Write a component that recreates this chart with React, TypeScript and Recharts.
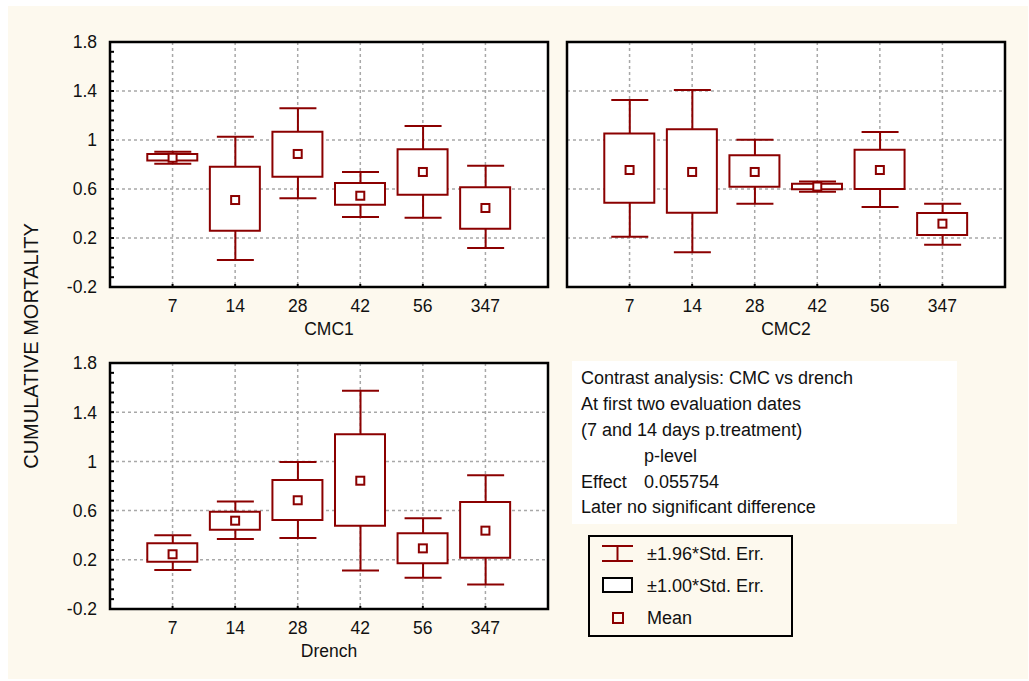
import React from "react";
import { ComposedChart, Bar, Scatter, XAxis, YAxis, CartesianGrid, ReferenceArea } from "recharts";

const RED = "#8b0000";
const CREAM = "#fdf9ee";
const FONT = '"Liberation Sans", Arial, sans-serif';

const categories = ["7", "14", "28", "42", "56", "347"];
const positions = [1, 2, 3, 4, 5, 6];

// CMC1
const cmc1Mean = [0.855, 0.51, 0.886, 0.545, 0.739, 0.445];
const cmc1BoxLow = [0.832, 0.26, 0.7, 0.472, 0.554, 0.276];
const cmc1BoxHigh = [0.885, 0.782, 1.068, 0.649, 0.924, 0.614];
const cmc1WhiskLow = [0.806, 0.02, 0.524, 0.371, 0.366, 0.118];
const cmc1WhiskHigh = [0.905, 1.027, 1.259, 0.739, 1.114, 0.79];

// CMC2
const cmc2Mean = [0.755, 0.739, 0.739, 0.62, 0.755, 0.317];
const cmc2BoxLow = [0.488, 0.407, 0.619, 0.598, 0.6, 0.224];
const cmc2BoxHigh = [1.054, 1.087, 0.875, 0.642, 0.921, 0.404];
const cmc2WhiskLow = [0.211, 0.083, 0.48, 0.578, 0.453, 0.145];
const cmc2WhiskHigh = [1.327, 1.408, 1.003, 0.662, 1.065, 0.48];

// Drench
const drenchMean = [0.245, 0.518, 0.684, 0.843, 0.293, 0.437];
const drenchBoxLow = [0.185, 0.445, 0.524, 0.477, 0.172, 0.217];
const drenchBoxHigh = [0.334, 0.591, 0.849, 1.22, 0.415, 0.67];
const drenchWhiskLow = [0.117, 0.369, 0.377, 0.112, 0.055, 0.0];
const drenchWhiskHigh = [0.399, 0.673, 0.995, 1.575, 0.537, 0.887];

// axis ticks: majors every 0.4, minors every 0.08
const yTicks = [
  -0.2, -0.12, -0.04, 0.04, 0.12, 0.2, 0.28, 0.36, 0.44, 0.52, 0.6, 0.68, 0.76,
  0.84, 0.92, 1, 1.08, 1.16, 1.24, 1.32, 1.4, 1.48, 1.56, 1.64, 1.72, 1.8,
];
const yMajor = [-0.2, 0.2, 0.6, 1, 1.4, 1.8];
const yGrid = [0.2, 0.6, 1, 1.4];
const xDomain = [0, 7];
const yDomain = [-0.2, 1.8];

const noteLines = [
  "Contrast analysis: CMC vs drench",
  "At first two evaluation dates",
  "(7 and 14 days p.treatment)",
];
const legendLabels = ["\u00b11.96*Std. Err.", "\u00b11.00*Std. Err.", "Mean"];

const buildRows = (mean: number[], bl: number[], bh: number[], wl: number[], wh: number[]) =>
  categories.map((label, i) => ({
    pos: positions[i],
    label,
    mean: mean[i],
    box: [bl[i], bh[i]],
    whisk: [wl[i], wh[i]],
  }));

const isMajor = (v: number) => yMajor.some((m) => Math.abs(m - v) < 1e-6);
const fmt = (v: number) => String(Math.round(v * 10) / 10);

const FRAME = { stroke: "#000", strokeWidth: 2 };

const LeftTick = (props: any) => {
  const { x, y, payload, showLabel } = props;
  const v = payload.value;
  return (
    <g>
      <line x1={x} x2={x + 4} y1={y} y2={y} stroke="#000" strokeWidth={2} />
      {showLabel && isMajor(v) && (
        <text x={x - 13} y={y} dy="0.36em" textAnchor="end" fontSize={17.5} fontFamily={FONT} fill="#111">
          {fmt(v)}
        </text>
      )}
    </g>
  );
};

const RightTick = (props: any) => {
  const { x, y } = props;
  return <line x1={x} x2={x - 4} y1={y} y2={y} stroke="#000" strokeWidth={2} />;
};

const BottomTick = (props: any) => {
  const { x, y, payload } = props;
  return (
    <g>
      <line x1={x} x2={x} y1={y} y2={y - 3} stroke="#000" strokeWidth={2} />
      <text x={x} y={y + 25} textAnchor="middle" fontSize={17.5} fontFamily={FONT} fill="#111">
        {categories[payload.value - 1]}
      </text>
    </g>
  );
};

const TopTick = (props: any) => {
  const { x, y } = props;
  return <line x1={x} x2={x} y1={y} y2={y + 3} stroke="#000" strokeWidth={2} />;
};

const WhiskerShape = (props: any) => {
  const { x, y, width, height } = props;
  const cx = x + width / 2;
  return (
    <g stroke={RED} strokeWidth={2}>
      <line x1={cx} x2={cx} y1={y} y2={y + height} />
      <line x1={x} x2={x + width} y1={y} y2={y} />
      <line x1={x} x2={x + width} y1={y + height} y2={y + height} />
    </g>
  );
};

const MeanShape = (props: any) => {
  const { cx, cy } = props;
  return <rect x={cx - 4} y={cy - 4} width={8} height={8} fill="#fff" stroke={RED} strokeWidth={2} />;
};

type PanelProps = {
  rows: ReturnType<typeof buildRows>;
  name: string;
  left: number;
  top: number;
  width: number;
  height: number;
  margin: { top: number; right: number; bottom: number; left: number };
  yWidth: number;
  showYLabels: boolean;
};

const Panel = ({ rows, name, left, top, width, height, margin, yWidth, showYLabels }: PanelProps) => (
  <div style={{ position: "absolute", left, top, width, height }}>
    <ComposedChart width={width} height={height} data={rows} margin={margin}>
      <CartesianGrid
        xAxisId="b"
        yAxisId="l"
        fill="#ffffff"
        stroke="#a8a8a8"
        strokeWidth={1.5}
        strokeDasharray="3 3"
        horizontalValues={yGrid}
        verticalValues={positions}
      />
      <XAxis
        xAxisId="b"
        dataKey="pos"
        type="number"
        domain={xDomain}
        ticks={positions}
        interval={0}
        allowDataOverflow
        height={50}
        tickSize={0}
        tickMargin={0}
        tickLine={false}
        stroke="#000"
        axisLine={FRAME}
        tick={(p: any) => <BottomTick {...p} />}
        label={{ value: name, position: "insideBottom", offset: 2, fontSize: 17.5, fontFamily: FONT, fill: "#111" }}
      />
      <XAxis
        xAxisId="t"
        orientation="top"
        dataKey="pos"
        type="number"
        domain={xDomain}
        ticks={positions}
        interval={0}
        allowDataOverflow
        height={0}
        tickSize={0}
        tickMargin={0}
        tickLine={false}
        stroke="#000"
        axisLine={FRAME}
        tick={(p: any) => <TopTick {...p} />}
      />
      <YAxis
        yAxisId="l"
        type="number"
        domain={yDomain}
        ticks={yTicks}
        interval={0}
        allowDataOverflow
        width={yWidth}
        tickSize={0}
        tickMargin={0}
        tickLine={false}
        stroke="#000"
        axisLine={FRAME}
        tick={(p: any) => <LeftTick {...p} showLabel={showYLabels} />}
      />
      <YAxis
        yAxisId="r"
        orientation="right"
        type="number"
        domain={yDomain}
        ticks={yTicks}
        interval={0}
        allowDataOverflow
        width={0}
        tickSize={0}
        tickMargin={0}
        tickLine={false}
        stroke="#000"
        axisLine={FRAME}
        tick={(p: any) => <RightTick {...p} />}
      />
      <ReferenceArea
        xAxisId="b"
        yAxisId="l"
        x1={xDomain[0]}
        x2={xDomain[1]}
        y1={yDomain[0]}
        y2={yDomain[1]}
        fill="none"
        fillOpacity={0}
        stroke="#000"
        strokeWidth={2.5}
        strokeOpacity={1}
        ifOverflow="visible"
      />
      <Bar xAxisId="b" yAxisId="l" dataKey="whisk" barSize={37} shape={(p: any) => <WhiskerShape {...p} />} isAnimationActive={false} />
      <Bar xAxisId="t" yAxisId="l" dataKey="box" barSize={50} fill="#ffffff" stroke={RED} strokeWidth={2} isAnimationActive={false} />
      <Scatter xAxisId="b" yAxisId="l" dataKey="mean" shape={(p: any) => <MeanShape {...p} />} isAnimationActive={false} />
    </ComposedChart>
  </div>
);

export default function App() {
  const cmc1 = buildRows(cmc1Mean, cmc1BoxLow, cmc1BoxHigh, cmc1WhiskLow, cmc1WhiskHigh);
  const cmc2 = buildRows(cmc2Mean, cmc2BoxLow, cmc2BoxHigh, cmc2WhiskLow, cmc2WhiskHigh);
  const drench = buildRows(drenchMean, drenchBoxLow, drenchBoxHigh, drenchWhiskLow, drenchWhiskHigh);

  const textProps = { fontSize: 18, fontFamily: FONT, fill: "#111" };

  return (
    <div style={{ position: "absolute", left: 0, top: 0, width: 1029, height: 681, background: "#fff", fontFamily: FONT }}>
      <svg width={1029} height={681} style={{ position: "absolute", left: 0, top: 0 }}>
        <rect x={8} y={6} width={1020} height={673} fill={CREAM} />
        <text
          transform="translate(31,346) rotate(-90)"
          textAnchor="middle"
          dy="0.36em"
          fontSize={20}
          fontFamily={FONT}
          fill="#111"
        >
          CUMULATIVE MORTALITY
        </text>

        <rect x={572} y={361} width={385} height={163} fill="#ffffff" />
        {noteLines.map((t, i) => (
          <text key={t} x={581} y={384 + i * 26} {...textProps}>
            {t}
          </text>
        ))}
        <text x={644} y={462} {...textProps}>p-level</text>
        <text x={581} y={488} {...textProps}>Effect</text>
        <text x={644} y={488} {...textProps}>0.055754</text>
        <text x={581} y={513} {...textProps}>Later no significant difference</text>

        <rect x={589} y={536} width={203} height={100} fill="none" stroke="#000" strokeWidth={2} />
        <g stroke={RED} strokeWidth={2}>
          <line x1={602} x2={633} y1={546} y2={546} />
          <line x1={602} x2={633} y1={561} y2={561} />
          <line x1={617.5} x2={617.5} y1={546} y2={561} />
        </g>
        <rect x={603} y={578} width={29} height={14} fill="#fff" stroke="#000" strokeWidth={2} />
        <rect x={613} y={613} width={10} height={10} fill="none" stroke={RED} strokeWidth={2} />
        {legendLabels.map((t, i) => (
          <text key={t} x={647} y={560 + i * 32} {...textProps}>
            {t}
          </text>
        ))}
      </svg>

      <Panel rows={cmc1} name="CMC1" left={0} top={0} width={557} height={340}
        margin={{ top: 42, right: 9, bottom: 3, left: 50 }} yWidth={60} showYLabels />
      <Panel rows={cmc2} name="CMC2" left={557} top={0} width={472} height={340}
        margin={{ top: 42, right: 24, bottom: 3, left: 10 }} yWidth={0} showYLabels={false} />
      <Panel rows={drench} name="Drench" left={0} top={340} width={557} height={341}
        margin={{ top: 23, right: 9, bottom: 22, left: 50 }} yWidth={60} showYLabels />
    </div>
  );
}
